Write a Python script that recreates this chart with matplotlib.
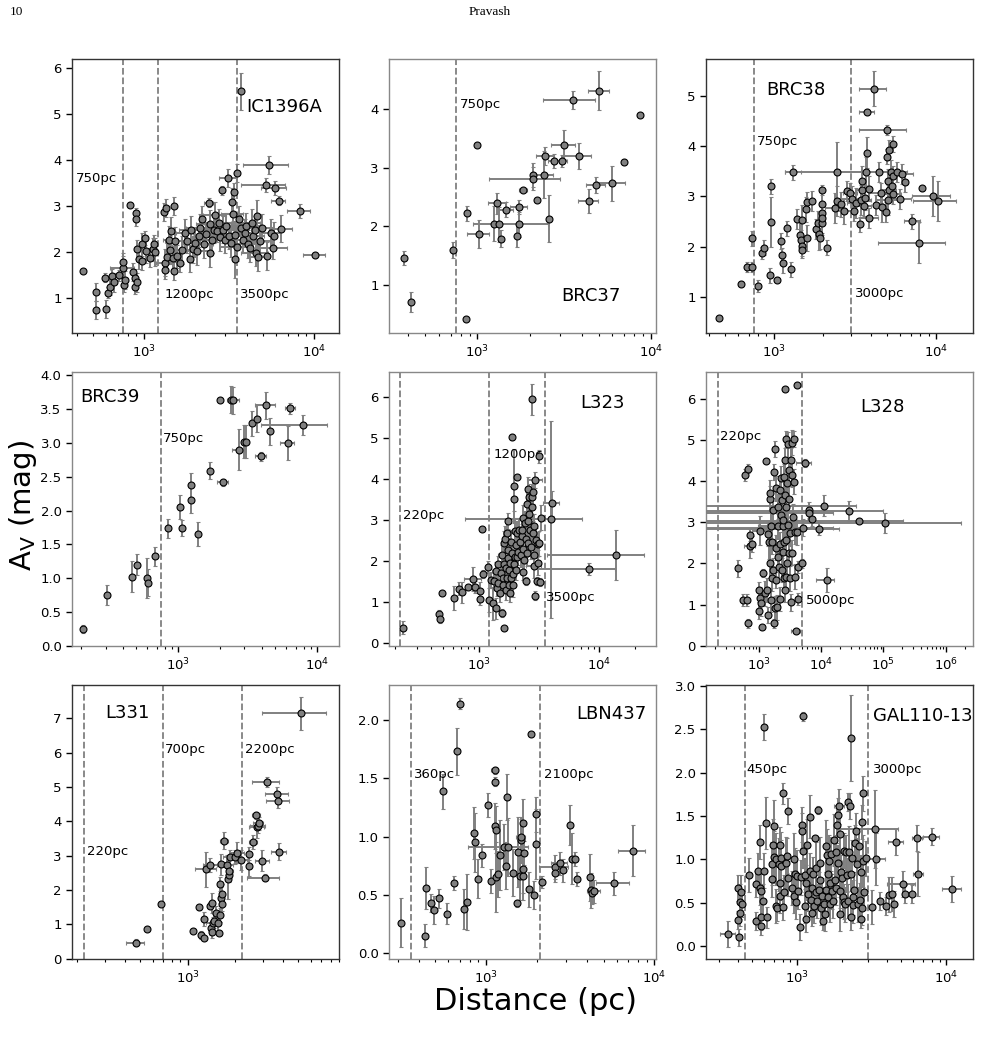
import matplotlib
matplotlib.use("Agg")
import matplotlib.pyplot as plt
from matplotlib.ticker import NullFormatter, MultipleLocator, LogLocator

# ---------------- data: (distance pc, A_V mag, distance err, A_V err) ----------------
ic1396a = [
    (438,1.58,0,0.05),(519,1.12,0,0.2),(520,0.73,0,0.2),(594,0.75,0,0.2),(588,1.43,0,0.1),
    (615,1.11,0,0.12),(628,1.23,0,0.18),(644,1.47,0,0.15),(665,1.33,0,0.2),(711,1.49,0,0.12),
    (748,1.65,120,0.25),(755,1.77,0,0.2),(762,1.27,0,0.15),(776,1.38,0,0.2),(826,3.02,0,0.05),
    (897,2.85,0,0.1),(897,2.70,0,0.15),(857,1.56,0,0.2),(877,1.43,0,0.2),(885,1.22,0,0.15),
    (905,1.33,0,0.2),(913,2.05,0,0.2),(929,1.83,0,0.2),(969,2.16,0,0.25),(1005,2.30,0,0.15),
    (977,1.79,0,0.2),(1028,2.01,0,0.25),(1085,1.87,0,0.2),(1125,2.05,0,0.25),(1145,2.16,0,0.2),
    (1162,1.99,0,0.3),(1313,2.86,0,0.2),(1349,2.95,0,0.2),(1490,2.99,0,0.2),(1331,1.76,150,0.3),
    (1318,1.60,0,0.2),(1361,1.88,0,0.3),(1393,2.26,100,0.3),(1443,2.45,0,0.3),(1411,2.03,0,0.3),
    (1477,1.87,0,0.25),(1490,1.58,0,0.2),(1524,2.24,200,0.3),(1559,1.90,0,0.25),(1631,1.76,0,0.2),
    (1669,2.03,250,0.3),(1730,2.41,200,0.3),(1786,2.23,0,0.25),(1869,1.85,0,0.3),(1895,2.48,300,0.3),
    (1930,2.05,0,0.3),(2000,2.19,300,0.3),(2046,2.01,400,0.3),(2094,2.34,0,0.25),(2123,2.52,350,0.3),
    (2192,2.70,0,0.3),(2242,2.16,300,0.3),(2314,2.39,0,0.25),(2397,3.06,150,0.1),(2430,2.61,400,0.3),
    (2452,1.96,0,0.3),(2508,2.26,450,0.3),(2564,2.48,400,0.3),(2622,2.79,400,0.3),(2682,2.45,0,0.25),
    (2745,2.63,500,0.3),(2810,2.31,400,0.3),(2874,3.33,0,0.1),(2914,2.48,600,0.3),(2982,2.26,500,0.3),
    (3038,2.55,0,0.3),(3106,3.60,350,0.2),(3148,2.35,600,0.3),(3222,2.19,0,0.3),(3268,3.08,0,0.3),
    (3330,2.81,500,0.35),(3377,3.30,0,0.2),(3410,2.37,500,0.3),(3425,1.83,0,0.4),(3499,3.71,0,0.2),
    (3499,2.10,700,0.3),(3612,2.70,0,0.3),(3694,2.52,700,0.3),(3727,5.49,0,0.4),(3813,2.26,500,0.3),
    (3916,2.41,600,0.3),(3987,2.55,800,0.3),(4077,2.17,600,0.3),(4170,2.07,0,0.3),(4285,2.63,500,0.3),
    (4384,2.34,700,0.3),(4464,2.48,0,0.3),(4525,1.98,800,0.3),(4628,2.78,0,0.35),(4670,1.88,500,0.3),
    (4777,2.23,700,0.3),(4954,2.52,800,0.3),(5209,3.45,1500,0.15),(5427,3.89,1600,0.2),(5556,2.41,700,0.3),
    (5754,2.08,1200,0.25),(5802,2.35,0,0.3),(5851,3.38,1000,0.15),(6173,3.11,600,0.1),(6403,2.50,1000,0.3),
    (5300,1.90,0,0.3),(8214,2.89,1300,0.15),(10120,1.92,1500,0.05),
]

brc37 = [
    (379,1.46,0,0.12),(412,0.71,0,0.17),(727,1.59,0,0.14),(857,0.42,0,0),(876,2.22,0,0.13),
    (1000,3.38,0,0.03),(1018,1.87,150,0.24),(1253,2.04,0,0.3),(1304,2.39,150,0.18),(1339,2.03,0,0.3),
    (1370,1.79,0,0.15),(1463,2.28,150,0.13),(1700,1.84,0,0.2),(1739,2.32,200,0.12),(1739,2.03,800,0.22),
    (1825,2.62,100,0.03),(2077,2.87,0,0.2),(2086,2.81,920,0.2),(2198,2.44,0,0.03),(2412,2.88,300,0.4),
    (2467,3.20,300,0.15),(2591,2.13,0,0.4),(2746,3.11,200,0.12),(3052,3.11,250,0.1),(3161,3.39,500,0.25),
    (3578,4.15,1200,0.15),(3842,3.19,700,0.22),(4385,2.43,600,0.2),(4834,2.70,600,0.14),(5053,4.31,700,0.33),
    (5986,2.73,1100,0.3),(6960,3.09,0,0.05),(8655,3.90,300,0.03),
]

brc38 = [
    (461,0.57,0,0.03),(627,1.26,0,0.05),(686,1.60,0,0.1),(732,1.60,0,0.1),(732,2.16,0,0.15),
    (801,1.22,0,0.12),(840,1.88,0,0.12),(868,1.98,0,0.15),(954,1.43,0,0.15),(958,3.20,0,0.15),
    (963,2.49,0,0.5),(1048,1.34,0,0.05),(1115,2.11,0,0.15),(1120,1.83,0,0.15),(1136,1.68,0,0.2),
    (1208,2.36,0,0.15),(1272,1.55,0,0.15),(1315,3.48,150,0.15),(1398,2.54,0,0.2),(1459,2.23,0,0.25),
    (1480,2.13,0,0.2),(1494,2.52,0,0.3),(1494,2.02,0,0.2),(1494,1.93,0,0.15),(1588,2.74,0,0.25),
    (1603,2.89,0,0.2),(1610,2.17,0,0.25),(1713,2.91,0,0.2),(1830,2.35,0,0.2),(1872,2.46,0,0.25),
    (1890,2.24,0,0.3),(1918,2.16,0,0.2),(1982,3.13,0,0.1),(1982,2.85,0,0.3),(1982,2.67,0,0.2),
    (1982,2.47,0,0.25),(1982,2.57,0,0.3),(2137,1.98,0,0.15),(2371,2.77,300,0.3),(2465,3.48,1300,0.6),
    (2465,2.90,0,0.3),(2605,2.84,0,0.25),(2691,2.70,300,0.25),(2823,3.11,0,0.2),(2960,3.07,300,0.2),
    (3045,2.95,600,0.25),(3132,2.70,0,0.2),(3226,2.87,400,0.3),(3375,2.44,0,0.15),(3458,2.93,500,0.3),
    (3501,3.30,0,0.3),(3501,3.13,300,0.2),(3575,2.80,400,0.2),(3639,2.97,0,0.25),(3704,3.48,1300,0.3),
    (3740,3.87,0,0.3),(3774,4.67,400,0.05),(3885,3.15,0,0.25),(3885,2.57,500,0.2),(4141,5.14,800,0.35),
    (4270,2.82,0,0.2),(4479,3.48,0,0.2),(4583,3.07,700,0.2),(4648,2.79,0,0.3),(4925,2.68,0,0.2),
    (4971,4.31,1600,0.1),(4994,3.79,0,0.15),(5040,3.30,0,0.25),(5040,2.93,800,0.3),(5100,3.13,600,0.25),
    (5162,3.92,0,0.2),(5250,3.48,1000,0.25),(5350,3.20,0,0.25),(5400,3.05,700,0.2),(5456,3.40,0,0.2),
    (5456,4.04,0,0.15),(5783,3.48,800,0.2),(5990,2.95,1000,0.2),(6173,3.45,1000,0.2),(6397,3.28,0,0.2),
    (7126,2.50,800,0.15),(7906,2.08,3500,0.4),(8168,3.16,0,0.05),(9634,3.00,2500,0.4),(10240,2.90,3000,0.4),
]

brc39 = [
    (208,0.24,0,0.06),(308,0.75,0,0.15),(465,1.02,0,0.23),(505,1.20,0,0.15),(597,1.00,0,0.3),
    (607,0.93,0,0.2),(686,1.32,0,0.14),(842,1.74,0,0.14),(1034,2.05,0,0.18),(1069,1.74,0,0.12),
    (1228,2.16,0,0.2),(1242,2.38,0,0.18),(1380,1.65,0,0.18),(1703,2.59,0,0.13),(2000,3.63,0,0.02),
    (2102,2.42,200,0.05),(2416,3.64,0,0.2),(2502,3.63,250,0.2),(2748,2.90,300,0.3),(2985,3.02,0,0.25),
    (3104,3.02,0,0.25),(3428,3.29,0,0.18),(3726,3.36,0,0.2),(3938,2.80,350,0.07),(4277,3.56,700,0.2),
    (4600,3.17,0,0.2),(6138,3.00,700,0.25),(6417,3.51,500,0.08),(7878,3.27,3950,0.15),
]

l323 = [
    (233,0.37,0,0.15),(461,0.70,0,0.1),(473,0.59,0,0.12),(492,1.20,0,0.05),(619,1.09,0,0.3),
    (681,1.32,0,0.15),(721,1.23,0,0.25),(809,1.35,0,0.05),(891,1.55,150,0.3),(926,1.35,0,0.15),
    (1013,1.27,0,0.2),(1019,1.07,0,0.15),(1046,2.77,0,0.05),(1080,1.67,0,0.1),(1173,1.84,0,0.15),
    (1204,1.04,0,0.3),(1251,1.53,0,0.2),(1308,0.96,0,0.4),(1334,1.51,0,0.2),(1368,0.84,0,0.25),
    (1377,1.76,100,0.2),(1413,1.33,0,0.2),(1440,1.45,0,0.2),(1440,1.92,0,0.2),(1486,1.20,0,0.2),
    (1515,1.69,0,0.25),(1535,0.72,0,0.1),(1535,2.14,100,0.25),(1564,1.57,0,0.25),(1585,1.41,0,0.2),
    (1605,1.93,0,0.25),(1615,0.35,0,0.05),(1615,2.42,0,0.3),(1626,2.54,0,0.3),(1657,1.28,0,0.25),
    (1668,1.81,0,0.3),(1690,2.67,0,0.25),(1700,1.57,0,0.2),(1722,2.06,0,0.3),(1745,2.26,150,0.3),
    (1745,2.97,0,0.2),(1767,1.41,0,0.25),(1778,1.77,0,0.2),(1801,1.20,0,0.2),(1812,1.95,0,0.3),
    (1824,1.57,0,0.25),(1836,2.46,0,0.3),(1859,2.18,0,0.3),(1871,5.02,0,0.07),(1896,1.67,0,0.25),
    (1921,1.41,0,0.3),(1932,3.50,0,0.3),(1946,3.82,0,0.9),(1958,1.93,0,0.25),(1984,2.10,0,0.3),
    (1984,2.73,0,0.3),(2010,2.38,0,0.3),(2022,1.77,0,0.25),(2046,4.05,150,0.05),(2060,2.10,0,0.3),
    (2074,2.67,0,0.3),(2114,2.20,200,0.3),(2154,2.75,0,0.3),(2182,2.46,0,0.3),(2222,2.14,0,0.3),
    (2253,2.60,200,0.3),(2282,2.75,0,0.3),(2297,1.72,0,0.2),(2327,3.05,0,0.3),(2327,2.28,300,0.3),
    (2371,2.02,0,0.25),(2402,2.91,0,0.3),(2433,2.54,0,0.3),(2449,1.51,0,0.1),(2480,3.37,0,0.3),
    (2512,2.18,0,0.3),(2529,2.97,0,0.3),(2558,3.74,0,0.3),(2558,2.44,0,0.3),(2591,3.15,0,0.3),
    (2608,3.56,0,0.3),(2641,2.76,0,0.3),(2675,2.34,0,0.3),(2730,3.56,0,0.3),(2749,5.93,0,0.37),
    (2767,3.32,0,0.3),(2785,2.67,0,0.3),(2821,3.68,0,0.3),(2839,2.14,300,0.3),(2857,2.85,0,0.3),
    (2873,1.87,400,0.3),(2910,3.97,400,0.2),(2928,1.15,0,0.1),(2947,2.50,0,0.3),(3008,1.50,0,0.1),
    (3103,1.95,0,0.3),(3103,2.41,0,0.3),(3163,4.54,0,0.15),(3203,1.49,300,0.1),(3243,3.05,0,0.3),
    (3163,2.42,0,0.3),(4008,3.40,600,0.3),(3955,3.01,3200,2.4),(13680,2.14,10000,0.6),(8252,1.79,5400,0.15),
]

l328 = [
    (456,1.88,0,0.2),(548,1.11,50,0.15),(597,4.15,0,0.15),(652,1.11,0,0.15),(667,4.31,0,0.1),
    (667,0.54,0,0.1),(718,2.69,0,0.15),(718,2.43,150,0.3),(773,2.47,0,0.2),(1000,1.35,0,0.2),
    (1000,0.85,0,0.2),(1037,1.17,0,0.25),(1063,2.80,300,0.35),(1103,1.03,0,0.3),(1144,0.46,0,0.05),
    (1173,1.76,0,0.1),(1247,1.27,0,0.3),(1294,4.49,0,0.05),(1359,1.35,0,0.3),(1410,0.75,0,0.2),
    (1427,2.72,0,0.3),(1463,2.51,0,0.4),(1499,3.58,0,0.3),(1499,2.00,0,0.4),(1536,3.72,0,0.3),
    (1555,2.91,600,0.5),(1594,1.11,0,0.3),(1614,1.64,0,0.3),(1654,2.53,0,0.3),(1695,3.30,0,0.3),
    (1695,1.84,0,0.3),(1737,0.54,0,0.1),(1780,4.23,0,0.2),(1802,4.78,0,0.2),(1824,0.91,0,0.3),
    (1869,2.38,0,0.3),(1916,3.83,0,0.3),(1916,1.60,0,0.2),(1963,0.93,0,0.3),(2012,2.15,0,0.3),
    (2037,3.38,0,0.3),(2037,2.90,0,0.3),(2088,1.92,0,0.3),(2166,1.13,0,0.3),(2166,3.79,0,0.3),
    (2220,2.47,0,0.3),(2248,4.07,0,0.3),(2303,3.18,0,0.3),(2332,1.84,0,0.3),(2391,3.54,0,0.3),
    (2420,2.27,0,0.3),(2451,2.90,0,0.3),(2481,3.06,0,0.3),(2512,1.64,0,0.3),(2543,4.11,0,0.3),
    (2575,2.53,0,0.3),(2607,4.52,0,0.3),(2607,3.67,0,0.3),(2640,1.35,0,0.3),(2672,6.24,0,0.05),
    (2706,2.57,0,0.3),(2739,5.03,0,0.2),(2773,3.38,0,0.3),(2773,1.66,0,0.3),(2843,2.00,0,0.3),
    (2879,3.95,0,0.3),(2914,4.90,0,0.3),(2987,2.94,0,0.3),(3025,4.27,0,0.3),(3062,2.25,0,0.3),
    (3100,3.58,0,0.3),(3139,1.64,0,0.3),(3218,2.73,0,0.3),(3258,1.05,0,0.2),(3298,4.52,0,0.3),
    (3381,4.15,0,0.3),(3423,4.94,0,0.3),(3423,2.26,0,0.3),(3551,3.14,0,0.3),(3640,5.03,0,0.2),
    (3732,3.99,0,0.3),(3778,2.77,0,0.3),(3825,1.68,0,0.3),(3922,0.36,700,0.05),(4021,6.34,0,0.05),
    (4122,2.76,0,0.3),(4253,1.13,0,0.15),(4253,1.91,0,0.15),(4989,2.00,0,0.1),(5108,2.87,10300,0.2),
    (5436,4.44,1500,0.1),(6287,3.30,0,0.2),(6366,3.22,9000,0.15),(7194,3.07,0,0.15),(9105,2.85,10100,0.15),
    (10940,3.41,25400,0.25),(12220,1.60,4000,0.3),(28440,3.28,68600,0.25),(40620,3.03,162000,0.05),
    (105700,2.98,1630000,0.25),
]

l331 = [
    (470,0.47,60,0.1),(550,0.85,0,0.03),(681,1.60,0,0.05),(1076,0.81,0,0.05),(1180,1.49,0,0.08),
    (1215,0.68,0,0.12),(1263,1.16,0,0.2),(1276,0.61,0,0.05),(1313,2.60,200,0.5),(1379,1.54,0,0.1),
    (1393,2.73,150,0.2),(1413,0.88,0,0.2),(1420,1.62,0,0.3),(1427,0.79,0,0.2),(1448,1.05,150,0.15),
    (1462,1.10,0,0.2),(1520,1.32,0,0.2),(1550,1.03,0,0.2),(1572,0.75,0,0.05),(1595,1.27,0,0.2),
    (1611,2.17,0,0.2),(1627,2.75,0,0.3),(1627,1.78,0,0.3),(1651,1.58,0,0.2),(1643,1.88,0,0.3),
    (1700,3.44,100,0.25),(1776,2.73,150,0.3),(1794,2.33,0,0.6),(1818,2.43,0,0.2),(1837,2.56,100,0.2),
    (1864,2.96,200,0.2),(2006,2.96,100,0.2),(2055,3.09,200,0.3),(2158,2.87,200,0.3),(2437,3.06,0,0.2),
    (2448,2.71,0,0.3),(2596,3.40,150,0.2),(2714,4.18,150,0.1),(2752,3.82,300,0.3),(2778,3.85,300,0.2),
    (2805,3.94,200,0.2),(2960,2.85,300,0.3),(3075,2.36,700,0.1),(3155,5.14,600,0.15),(3686,4.81,600,0.2),
    (3741,4.60,600,0.2),(3758,3.11,400,0.25),(5236,7.14,2300,0.48),
]

lbn437 = [
    (314,0.26,0,0.21),(435,0.15,0,0.1),(444,0.56,0,0.18),(471,0.43,0,0.08),(491,0.37,0,0.12),
    (528,0.47,0,0.08),(553,1.39,0,0.15),(589,0.34,0,0.09),(651,0.60,0,0.06),(670,1.73,0,0.2),
    (698,2.14,0,0.05),(737,0.38,0,0.17),(778,0.44,0,0.24),(856,1.03,0,0.22),(864,0.95,0,0.25),
    (900,0.64,0,0.17),(947,0.84,0,0.1),(1023,1.27,0,0.1),(1071,0.62,0,0.1),(1126,1.57,50,0.03),
    (1131,1.47,50,0.04),(1131,1.09,0,0.2),(1141,1.06,0,0.2),(1141,0.65,0,0.3),(1184,0.68,0,0.2),
    (1211,0.84,0,0.3),(1285,0.91,500,0.2),(1309,0.75,0,0.2),(1339,1.34,0,0.2),(1357,0.91,0,0.25),
    (1454,0.69,0,0.2),(1528,0.43,0,0.03),(1543,0.87,0,0.3),(1592,0.66,0,0.2),(1607,0.97,0,0.2),
    (1615,1.00,100,0.15),(1651,1.12,0,0.2),(1651,0.66,0,0.2),(1651,0.72,0,0.2),(1681,0.86,0,0.1),
    (1800,0.55,0,0.15),(1850,1.88,0,0.02),(1937,0.50,0,0.12),(1998,1.19,0,0.15),(1998,0.94,0,0.3),
    (2151,0.61,0,0.05),(2581,0.74,500,0.1),(2581,0.69,0,0.08),(2753,0.77,300,0.1),(2856,0.71,0,0.1),
    (3170,1.10,0,0.17),(3244,0.81,0,0.22),(3380,0.81,0,0.06),(3474,0.64,0,0.06),(4166,0.65,0,0.2),
    (4204,0.54,0,0.15),(4284,0.52,0,0.1),(4385,0.53,400,0.1),(5784,0.60,1300,0.1),(7466,0.88,1400,0.22),
]

gal110 = [
    (343,0.14,40,0.15),(405,0.67,0,0.15),(405,0.30,0,0.1),(410,0.10,0,0.1),(415,0.51,0,0.2),
    (419,0.62,0,0.2),(415,0.38,0,0.15),(430,0.48,0,0.15),(479,0.82,0,0.2),(530,0.71,0,0.15),
    (530,0.29,0,0.1),(550,0.87,0,0.2),(564,1.20,0,0.2),(564,0.67,0,0.2),(570,0.63,0,0.2),
    (573,0.23,0,0.1),(578,0.33,0,0.15),(588,0.52,0,0.2),(599,2.53,0,0.15),(599,0.87,0,0.2),
    (618,1.42,0,0.3),(631,0.33,0,0.12),(678,0.95,0,0.25),(685,0.77,0,0.2),(692,1.17,0,0.3),
    (703,1.03,0,0.3),(706,1.38,0,0.3),(721,1.00,0,0.3),(728,0.46,0,0.2),(736,0.44,0,0.15),
    (759,0.94,0,0.3),(766,0.73,0,0.2),(770,1.17,0,0.2),(774,0.58,0,0.2),(786,1.02,0,0.3),
    (786,0.92,0,0.3),(807,1.76,0,0.12),(807,0.45,0,0.15),(815,0.62,0,0.2),(840,0.96,0,0.3),
    (862,1.04,0,0.2),(867,1.56,0,0.15),(875,0.78,0,0.2),(931,0.67,0,0.2),(950,1.00,0,0.3),
    (955,0.58,0,0.2),(970,0.83,0,0.3),(990,0.51,0,0.2),(1000,0.81,0,0.3),(1015,0.63,0,0.2),
    (1042,0.22,0,0.15),(1063,0.79,0,0.2),(1085,1.40,0,0.2),(1085,1.33,0,0.2),(1096,2.65,0,0.05),
    (1096,1.10,0,0.2),(1125,0.82,0,0.2),(1125,0.46,0,0.2),(1142,0.31,0,0.15),(1154,0.73,0,0.2),
    (1166,1.17,0,0.3),(1184,0.60,0,0.2),(1214,0.87,0,0.2),(1227,1.49,0,0.25),(1233,0.53,0,0.2),
    (1252,0.38,0,0.15),(1265,0.67,0,0.2),(1278,0.83,0,0.2),(1291,0.46,0,0.2),(1311,1.24,0,0.03),
    (1332,0.62,0,0.2),(1346,0.90,0,0.3),(1366,0.52,0,0.2),(1387,1.57,0,0.05),(1402,0.65,0,0.2),
    (1416,0.96,0,0.3),(1431,0.76,0,0.2),(1446,0.44,0,0.2),(1468,0.58,0,0.2),(1491,0.29,0,0.1),
    (1514,0.48,0,0.2),(1529,0.37,0,0.2),(1553,1.15,0,0.3),(1569,0.65,0,0.2),(1585,1.05,0,0.3),
    (1601,0.83,0,0.2),(1609,0.56,0,0.2),(1634,0.98,0,0.3),(1651,0.73,0,0.2),(1668,0.48,0,0.2),
    (1694,1.06,0,0.2),(1720,0.63,0,0.2),(1738,0.52,0,0.2),(1765,1.22,0,0.3),(1783,0.76,0,0.2),
    (1810,1.08,0,0.2),(1829,0.67,0,0.2),(1857,1.39,0,0.2),(1876,0.96,0,0.2),(1895,1.51,0,0.2),
    (1905,1.61,150,0.2),(1925,0.37,0,0.2),(1944,1.29,0,0.3),(1954,0.64,0,0.2),(1974,0.85,0,0.2),
    (2004,0.78,0,0.2),(2026,0.56,0,0.2),(2057,1.10,0,0.2),(2078,0.51,0,0.2),(2110,0.48,0,0.2),
    (2132,1.08,0,0.2),(2154,0.82,0,0.2),(2187,1.66,0,0.1),(2198,0.52,0,0.2),(2243,1.08,0,0.3),
    (2266,1.61,0,0.15),(2290,2.40,0,0.5),(2302,0.33,0,0.15),(2314,0.83,0,0.2),(2338,1.02,0,0.2),
    (2362,0.47,0,0.2),(2387,0.56,0,0.2),(2425,0.65,0,0.2),(2450,1.19,0,0.2),(2489,1.33,0,0.2),
    (2528,0.94,0,0.3),(2554,0.48,0,0.2),(2580,1.15,0,0.2),(2620,0.53,0,0.2),(2661,0.31,0,0.1),
    (2688,0.85,0,0.2),(2702,1.43,0,0.2),(2729,0.44,0,0.2),(2757,1.76,0,0.2),(2757,0.98,0,0.3),
    (2829,0.62,0,0.2),(2898,1.01,0,0.2),(3180,0.45,0,0.2),(3330,1.35,1400,0.45),(3380,1.00,500,0.3),
    (3593,0.52,0,0.1),(3938,0.46,0,0.1),(4098,0.59,0,0.2),(4315,0.60,0,0.2),(4453,0.48,0,0.15),
    (4595,1.20,500,0.15),(5088,0.72,1100,0.15),(5303,0.60,0,0.1),(5873,0.60,0,0.1),(6339,1.24,500,0.15),
    (6432,0.83,500,0.25),(7986,1.26,1000,0.1),(10960,0.66,1600,0.15),
]

# names, reference distances (pc)
names = ["IC1396A", "BRC37", "BRC38", "BRC39", "L323", "L328", "L331", "LBN437", "GAL110-13"]
datasets = [ic1396a, brc37, brc38, brc39, l323, l328, l331, lbn437, gal110]
ref_lines = [[750, 1200, 3500], [750], [750, 3000], [750], [220, 1200, 3500],
             [220, 5000], [220, 700, 2200], [360, 2100], [450, 3000]]

# ---------------- layout / style ----------------
W, H = 981, 1048
fig = plt.figure(figsize=(W / 100, H / 100), dpi=100)
col_left = [72, 389, 706]
row_top = [59, 372, 685]
aw, ah = 267, 274

cfg = [
    dict(xlim=(376, 14000), ylim=(0.23, 6.19), ystep=1,
         name_pos=(4000, 5.14), ann=[(396, 3.58, "750pc"), (1313, 1.07, "1200pc"), (3640, 1.07, "3500pc")],
         spine="#333333"),
    dict(xlim=(309, 10700), ylim=(0.18, 4.85), ystep=1,
         name_pos=(3026, 0.81), ann=[(794, 4.07, "750pc")], spine="#888888"),
    dict(xlim=(382, 16900), ylim=(0.28, 5.73), ystep=1,
         name_pos=(902, 5.11), ann=[(782, 4.08, "750pc"), (3149, 1.07, "3000pc")], spine="#333333"),
    dict(xlim=(172, 14400), ylim=(-0.005, 4.05), ystep=0.5,
         name_pos=(197, 3.68), ann=[(779, 3.06, "750pc")], spine="#888888"),
    dict(xlim=(177, 29700), ylim=(-0.08, 6.6), ystep=1,
         name_pos=(6990, 5.84), ann=[(233, 3.10, "220pc"), (1325, 4.60, "1200pc"), (3594, 1.11, "3500pc")],
         spine="#888888"),
    dict(xlim=(142, 2.73e6), ylim=(-0.01, 6.66), ystep=1,
         name_pos=(42170, 5.81), ann=[(238, 5.09, "220pc"), (5640, 1.09, "5000pc")], spine="#888888"),
    dict(xlim=(186, 9040), ylim=(-0.01, 7.97), ystep=1,
         name_pos=(301, 7.14), ann=[(230, 3.11, "220pc"), (714, 6.10, "700pc"), (2287, 6.10, "2200pc")],
         spine="#333333"),
    dict(xlim=(266, 10240), ylim=(-0.05, 2.30), ystep=0.5,
         name_pos=(3428, 2.05), ann=[(373, 1.53, "360pc"), (2213, 1.53, "2100pc")], spine="#888888"),
    dict(xlim=(246, 15060), ylim=(-0.15, 3.01), ystep=0.5,
         name_pos=(3211, 2.65), ann=[(459, 2.04, "450pc"), (3211, 2.04, "3000pc")], spine="#333333"),
]

for i, (rows, name, lines, c) in enumerate(zip(datasets, names, ref_lines, cfg)):
    r, col = divmod(i, 3)
    ax = fig.add_axes([col_left[col] / W, 1 - (row_top[r] + ah) / H, aw / W, ah / H])
    d = [p[0] for p in rows]
    a = [p[1] for p in rows]
    dx = [p[2] for p in rows]
    dy = [p[3] for p in rows]
    ax.set_xscale("log")
    ax.errorbar(d, a, xerr=dx, yerr=dy, fmt="o", ms=5, mfc="#808080", mec="black",
                mew=0.8, ecolor="#808080", elinewidth=1.4, capsize=1.5, capthick=1.0, zorder=3)
    for v in lines:
        ax.axvline(v, color="#808080", ls="--", lw=1.3, zorder=1)
    ax.text(c["name_pos"][0], c["name_pos"][1], name, fontsize=13, ha="left", va="center")
    for (tx, ty, tt) in c["ann"]:
        ax.text(tx, ty, tt, fontsize=9.5, ha="left", va="center")
    ax.set_xlim(*c["xlim"])
    ax.set_ylim(*c["ylim"])
    ax.yaxis.set_major_locator(MultipleLocator(c["ystep"]))
    ax.xaxis.set_major_locator(LogLocator(base=10))
    ax.xaxis.set_minor_locator(LogLocator(base=10, subs=range(2, 10)))
    ax.xaxis.set_minor_formatter(NullFormatter())
    ax.tick_params(axis="both", which="major", direction="out", length=4, width=1,
                   labelsize=9.5, color="black")
    ax.tick_params(axis="x", which="minor", direction="out", length=2.2, width=0.8)
    for s in ax.spines.values():
        s.set_color(c["spine"])
        s.set_linewidth(1.0)

fig.text(23 / W, 1 - 505 / H, r"A$_\mathrm{V}$ (mag)", rotation=90, fontsize=21,
         ha="center", va="center")
fig.text(536 / W, 1 - 1002 / H, "Distance (pc)", fontsize=22, ha="center", va="center")
fig.text(10 / W, 1 - 12 / H, "10", fontsize=9.5, family="Liberation Serif", ha="left", va="center")
fig.text(490 / W, 1 - 12 / H, "Pravash", fontsize=9.5, family="Liberation Serif", ha="center", va="center")

fig.savefig("out.png", dpi=100)
